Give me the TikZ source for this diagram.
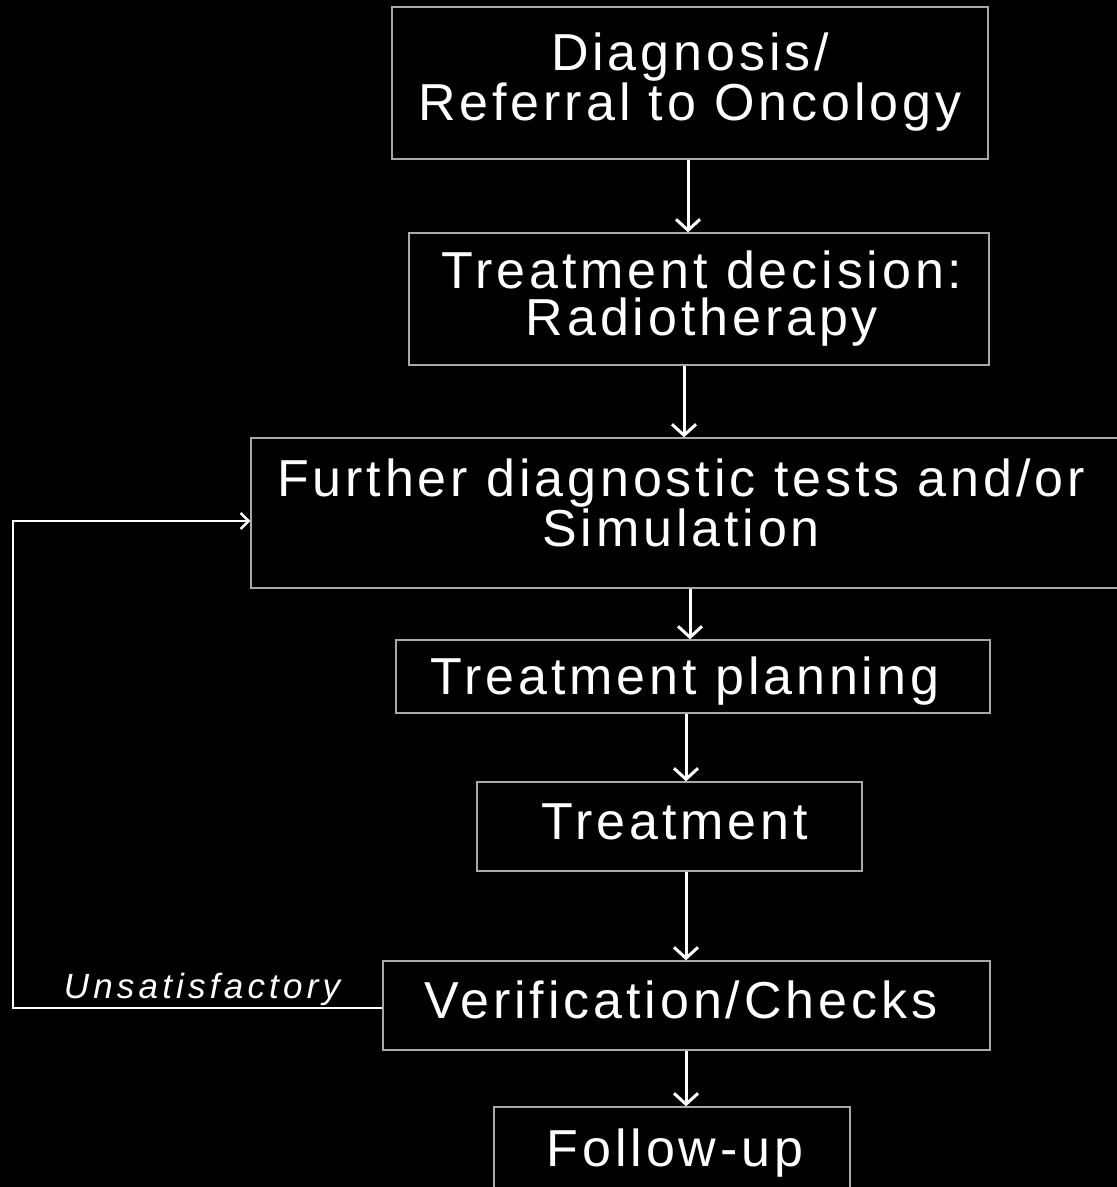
\documentclass[tikz,border=0pt]{standalone}
\usepackage{fontspec}
\setmainfont{Liberation Sans}[LetterSpace=7.5]
\newfontfamily\labfont{Liberation Sans}[LetterSpace=12]
\usetikzlibrary{arrows.meta}
\begin{document}
\begin{tikzpicture}[x=1pt,y=-1pt,
  box/.style={draw=boxgray, line width=1.4pt, inner sep=0pt},
  txt/.style={text=white, align=center, inner sep=0pt, font=\fontsize{52}{47}\selectfont},
  arr/.style={draw=white, line width=3pt, -{Straight Barb[length=11pt,width=24pt,line width=3pt]}},
  fb/.style={draw=white, line width=2.4pt, -{Straight Barb[length=8pt,width=16pt,line width=2.4pt]}},
  lab/.style={text=white, inner sep=0pt, font=\labfont\itshape\fontsize{35}{37}\selectfont}]
\definecolor{boxgray}{gray}{0.66}
\fill[black] (0,0) rectangle (1117,1187);
\useasboundingbox (0,0) rectangle (1117,1187);
\clip (0,0) rectangle (1117,1187);
% boxes
\node[box, minimum width=596pt, minimum height=152pt] (b1) at (690,83) {};
\node[box, minimum width=580pt, minimum height=132pt] (b2) at (699,299) {};
\node[box, minimum width=874pt, minimum height=150pt] (b3) at (688,513) {};
\node[box, minimum width=594pt, minimum height=73pt] (b4) at (693,676.5) {};
\node[box, minimum width=385pt, minimum height=89pt] (b5) at (669.5,826.5) {};
\node[box, minimum width=607pt, minimum height=89pt] (b6) at (686.5,1005.5) {};
\node[box, minimum width=356pt, minimum height=93pt] (b7) at (672,1153.5) {};
% texts
\node[txt] (t1) at (690,82) {Diagnosis/\\Referral to Oncology};
\node[txt] (t2) at (702,299) {Treatment decision:\\Radiotherapy};
\node[txt] (t3) at (681,503) {Further diagnostic tests and/or\\Simulation};
\node[txt, anchor=base] (t4) at (685,694) {Treatment planning};
\node[txt, anchor=base] (t5) at (675,839) {Treatment};
\node[txt, anchor=base] (t6) at (681,1018) {Verification/Checks};
\node[txt, anchor=base] (t7) at (675,1166) {Follow-up};
\node[lab, anchor=base] (l1) at (202,998) {Unsatisfactory};
% arrows
\draw[arr] (b1.south -| 688,0) -- (b2.north -| 688,0);
\draw[arr] (b2.south -| 684,0) -- (b3.north -| 684,0);
\draw[arr] (b3.south -| 690,0) -- (b4.north -| 690,0);
\draw[arr] (b4.south -| 686,0) -- (b5.north -| 686,0);
\draw[arr] (b5.south -| 686,0) -- (b6.north -| 686,0);
\draw[arr] (b6.south -| 686,0) -- (b7.north -| 686,0);
% feedback
\coordinate (fbc) at (13,521);
\draw[fb] (b6.west |- 0,1008) -| (fbc) -- (b3.west |- fbc);
\end{tikzpicture}
\end{document}
